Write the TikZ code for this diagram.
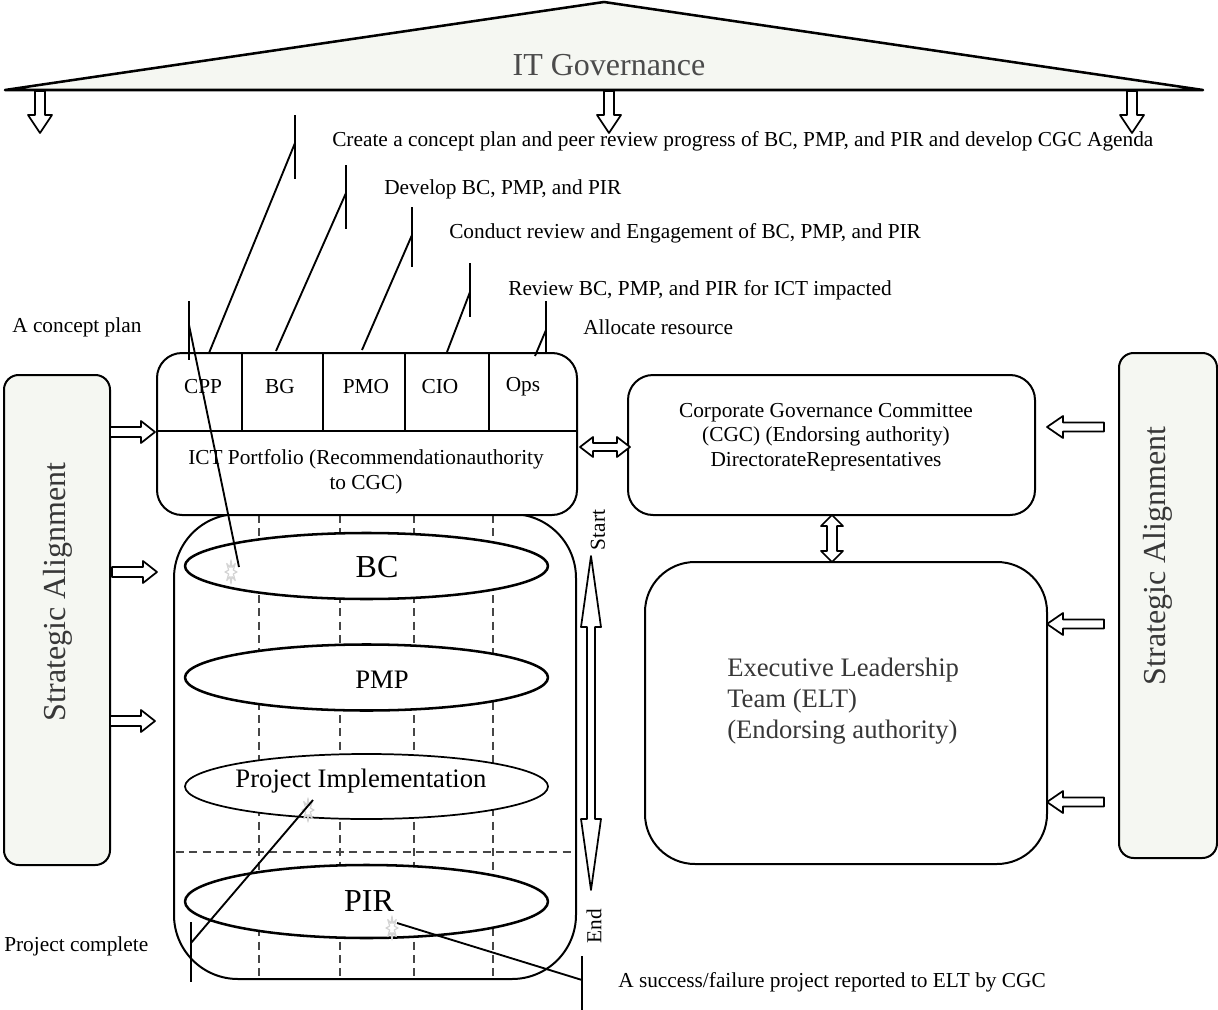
\documentclass[tikz,border=0pt]{standalone}
\usepackage{fontspec}
\setmainfont{Liberation Serif}
\usetikzlibrary{shapes.geometric,calc}

\definecolor{paleback}{RGB}{245,247,242}
\definecolor{softtext}{RGB}{75,75,75}
\definecolor{darktext}{RGB}{55,55,55}
\definecolor{dashgray}{RGB}{70,70,70}
\definecolor{starcol}{RGB}{212,212,212}

% hollow block arrow: tail point, direction, length, head length, shaft half width, head half width
\newcommand{\blockarrow}[6]{%
  \draw[hollowarrow,shift={#1},rotate=#2] (0,-#5) -- ({#3-#4},-#5) -- ({#3-#4},-#6) -- (#3,0)
    -- ({#3-#4},#6) -- ({#3-#4},#5) -- (0,#5) -- cycle;}
% hollow double-headed block arrow, same arguments
\newcommand{\blockdarrow}[6]{%
  \draw[hollowarrow,shift={#1},rotate=#2] (0,0) -- (#4,-#6) -- (#4,-#5) -- ({#3-#4},-#5) -- ({#3-#4},-#6)
    -- (#3,0) -- ({#3-#4},#6) -- ({#3-#4},#5) -- (#4,#5) -- (#4,#6) -- cycle;}
% small light starburst marking the anchor of a note
\newcommand{\starmark}[1]{%
  \draw[starcol,line width=0.9pt,shift={#1}] (0:6 and 12)
    \foreach \a in {22.5,67.5,...,337.5}{ -- (\a:2.5 and 5) -- ({\a+22.5}:6 and 12) } -- cycle;}

\begin{document}
\begin{tikzpicture}[x=0.75pt,y=-0.75pt,line join=round,
  rtxt/.style={font=\fontsize{16}{19}\selectfont,inner sep=0pt},
  txt/.style={rtxt,yshift=-1.5pt},
  bigtxt/.style={font=\fontsize{24}{28}\selectfont,inner sep=0pt},
  midtxt/.style={font=\fontsize{20}{23}\selectfont,inner sep=0pt},
  panel/.style={draw=black,line width=1.5pt,fill=white,rectangle},
  sidebox/.style={draw=black,line width=1.5pt,fill=paleback,rectangle,rounded corners=11pt},
  phase/.style={ellipse,draw=black,line width=1.9pt,fill=white,inner sep=0pt,
                minimum width=363*0.75pt,minimum height=66*0.75pt},
  hollowarrow/.style={draw=black,line width=1.3pt,fill=white},
  callout/.style={draw=black,line width=1.4pt},
  grid/.style={draw=dashgray,line width=1.1pt,dash pattern=on 6pt off 4pt},
  divider/.style={draw=black,line width=1.5pt}]

\useasboundingbox (0,0) rectangle (1218,1010);

% ---------- roof ----------
\draw[line width=1.9pt,fill=paleback] (5,90) -- (604,2) -- (1203,90) -- cycle;
\node[bigtxt,text=softtext] (itg) at (609,65) {IT Governance};
\blockarrow{(40,91)}{-90}{42}{18}{5}{12}
\blockarrow{(609,91)}{-90}{42}{18}{5}{12}
\blockarrow{(1132,91)}{-90}{42}{18}{5}{12}

% ---------- strategic alignment pillars ----------
\node[sidebox,minimum width=106*0.75pt,minimum height=490*0.75pt] (saleft) at (57,620) {};
\node[bigtxt,text=darktext,rotate=90] (saleftlbl) at (58,592) {Strategic Alignment};
\node[sidebox,minimum width=98*0.75pt,minimum height=505*0.75pt] (saright) at (1168,605.5) {};
\node[bigtxt,text=darktext,rotate=90] (sarightlbl) at (1158,556) {Strategic Alignment};

\blockarrow{(110,432)}{0}{45}{14}{5}{11}
\blockarrow{(112,572)}{0}{45}{14}{5}{11}
\blockarrow{(110,721)}{0}{45}{14}{5}{11}

\blockarrow{(1104,427)}{180}{57}{16}{4.5}{11}
\blockarrow{(1104,624)}{180}{57}{16}{4.5}{11}
\blockarrow{(1104,802)}{180}{57}{16}{4.5}{11}

% ---------- phase column ----------
\node[panel,rounded corners=48pt,minimum width=402*0.75pt,minimum height=465*0.75pt] (cyl) at (375,746.5) {};
\foreach \gx in {259,340,414,493}{ \draw[grid] (\gx,515) -- (\gx,978); }
\draw[grid] (176,852) -- (575,852);

\node[phase] (bc) at (366.5,566) {};
\node[phase] (pmp) at (366.5,677.5) {};
\node[phase,line width=1.3pt,minimum height=65*0.75pt] (pi) at (366.5,786.5) {};
\node[phase,minimum height=73*0.75pt] (pir) at (366.5,901.5) {};
\node[bigtxt] (bclbl) at (377,567) {BC};
\node[midtxt] (pmplbl) at (382,680) {PMP};
\node[midtxt] (pilbl) at (361,781) {Project Implementation};
\node[bigtxt] (pirlbl) at (369,901) {PIR};

\starmark{(231,572)}
\starmark{(308,810)}
\starmark{(392,928)}

\blockdarrow{(591,556)}{-90}{334}{71}{4}{10}
\node[rtxt,rotate=90] (startlbl) at (598,530) {Start};
\node[rtxt,rotate=90] (endlbl) at (594,926) {End};

% ---------- ICT portfolio ----------
\node[panel,rounded corners=18.75pt,minimum width=420*0.75pt,minimum height=162*0.75pt] (ict) at (367,434) {};
\draw[divider] (157,431) -- (577,431);
\foreach \dx in {242,323,405,489}{ \draw[divider] (\dx,353) -- (\dx,431); }
\node[txt] (cpp) at (203,385) {CPP};
\node[txt] (bg) at (280,385) {BG};
\node[txt] (pmo) at (366,385) {PMO};
\node[txt] (cio) at (440,385) {CIO};
\node[txt] (ops) at (523,385) {Ops};
\node[txt,align=center,font=\fontsize{16}{18.5}\selectfont] (ictlbl) at (366,470)
  {ICT Portfolio (Recommendationauthority\\to CGC)};

% ---------- committees ----------
\node[panel,rounded corners=18.75pt,minimum width=407*0.75pt,minimum height=140*0.75pt] (cgc) at (831.5,445) {};
\node[txt,align=center,font=\fontsize{16}{18.5}\selectfont] (cgclbl) at (826,435)
  {Corporate Governance Committee\\(CGC) (Endorsing authority)\\DirectorateRepresentatives};
\node[panel,rounded corners=37.5pt,minimum width=402*0.75pt,minimum height=302*0.75pt] (elt) at (846,713) {};
\node[midtxt,text=darktext,align=left,anchor=west] (eltlbl) at (727,701)
  {Executive Leadership\\Team (ELT)\\(Endorsing authority)};

\blockdarrow{(580,447)}{0}{50}{13}{4}{10}
\blockdarrow{(832,515)}{-90}{47}{11}{5}{11}

% ---------- notes ----------
\node[txt,anchor=west] (n1) at (332,139) {Create a concept plan and peer review progress of BC, PMP, and PIR and develop CGC Agenda};
\node[txt,anchor=west] (n2) at (384,187) {Develop BC, PMP, and PIR};
\node[txt,anchor=west] (n3) at (449,231) {Conduct review and Engagement of BC, PMP, and PIR};
\node[txt,anchor=west] (n4) at (508,288) {Review BC, PMP, and PIR for ICT impacted};
\node[txt,anchor=west] (n5) at (583,325) {Allocate resource};
\node[txt,anchor=west] (n6) at (12,325) {A concept plan};
\node[txt,anchor=west] (n7) at (4,944) {Project complete};
\node[txt,anchor=west] (n8) at (618,980) {A success/failure project reported to ELT by CGC};

% note leaders: a short bar and a slanted line to the element
\coordinate (k1) at (295,143); \draw[callout] (295,115) -- (295,179); \draw[callout] (k1) -- (209,353);
\coordinate (k2) at (346,193); \draw[callout] (346,165) -- (346,229); \draw[callout] (k2) -- (276,351);
\coordinate (k3) at (412,235); \draw[callout] (412,207) -- (412,267); \draw[callout] (k3) -- (362,350);
\coordinate (k4) at (470,292); \draw[callout] (470,263) -- (470,317); \draw[callout] (k4) -- (447,352);
\coordinate (k5) at (546,330); \draw[callout] (546,301) -- (546,352); \draw[callout] (k5) -- (535,356);
\coordinate (k6) at (189,325); \draw[callout] (189,301) -- (189,360); \draw[callout] (k6) -- (239,567);
\coordinate (k7) at (191,943); \draw[callout] (191,922) -- (191,982); \draw[callout] (k7) -- (313,800);
\coordinate (k8) at (582,980); \draw[callout] (582,956) -- (582,1010); \draw[callout] (k8) -- (397,923);

\end{tikzpicture}
\end{document}
